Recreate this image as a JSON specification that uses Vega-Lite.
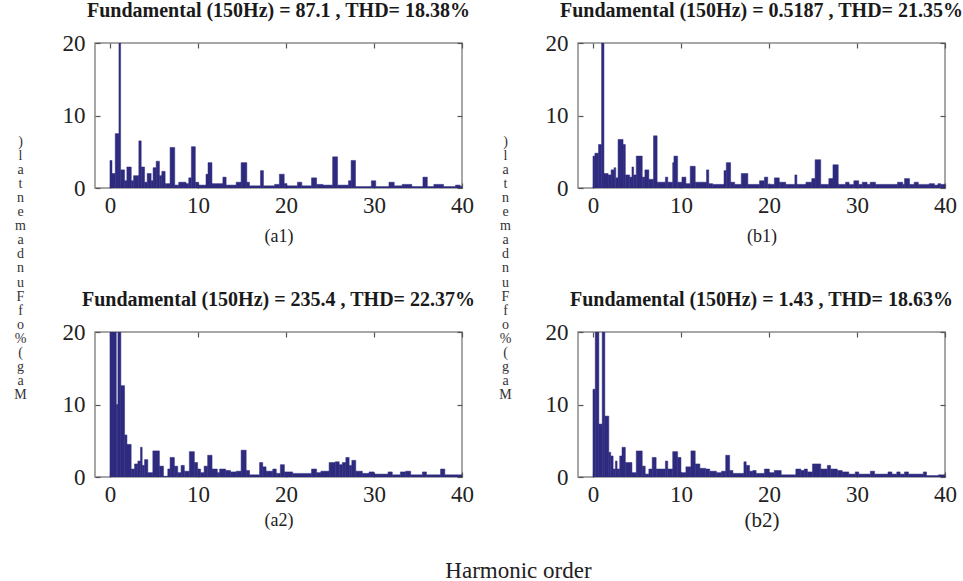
{
  "$schema": "https://vega.github.io/schema/vega-lite/v6.json",
  "background": "white",
  "padding": {"left": 13, "top": 0, "right": 5, "bottom": 5},
  "datasets": {
    "a1": [
      {"x0":0,"x1":0.23,"v":3.8},{"x0":0.23,"x1":0.6,"v":2.0},{"x0":0.6,"x1":1.02,"v":7.5},{"x0":1.02,"x1":1.21,"v":100},
      {"x0":1.21,"x1":1.66,"v":2.5},{"x0":1.66,"x1":1.92,"v":1.0},{"x0":1.92,"x1":2.42,"v":2.9},{"x0":2.42,"x1":2.68,"v":1.0},
      {"x0":2.68,"x1":3.28,"v":1.7},{"x0":3.28,"x1":3.55,"v":6.5},{"x0":3.55,"x1":3.93,"v":2.9},{"x0":3.93,"x1":4.23,"v":0.8},
      {"x0":4.23,"x1":4.68,"v":2.0},{"x0":4.68,"x1":4.9,"v":1.0},{"x0":4.9,"x1":5.25,"v":2.8},{"x0":5.25,"x1":5.62,"v":3.7},
      {"x0":5.62,"x1":5.89,"v":1.7},{"x0":5.89,"x1":6.27,"v":2.3},{"x0":6.27,"x1":6.83,"v":0.6},{"x0":6.83,"x1":7.36,"v":5.6},
      {"x0":7.36,"x1":7.81,"v":0.4},{"x0":7.81,"x1":8.64,"v":0.8},{"x0":8.64,"x1":8.95,"v":0.6},{"x0":8.95,"x1":9.25,"v":1.4},
      {"x0":9.25,"x1":9.7,"v":5.7},{"x0":9.7,"x1":10.08,"v":0.8},{"x0":10.08,"x1":10.91,"v":0.4},{"x0":10.91,"x1":11.14,"v":1.9},
      {"x0":11.14,"x1":11.59,"v":3.5},{"x0":11.59,"x1":12.83,"v":0.6},{"x0":12.83,"x1":13.2,"v":1.5},{"x0":13.2,"x1":14.34,"v":0.4},
      {"x0":14.34,"x1":14.9,"v":0.8},{"x0":14.9,"x1":15.55,"v":3.5},{"x0":15.55,"x1":15.85,"v":0.8},{"x0":15.85,"x1":17.1,"v":0.3},
      {"x0":17.1,"x1":17.44,"v":2.4},{"x0":17.44,"x1":18.7,"v":0.3},{"x0":18.7,"x1":19.25,"v":0.5},{"x0":19.25,"x1":19.8,"v":1.9},
      {"x0":19.8,"x1":20.1,"v":0.6},{"x0":20.1,"x1":21.3,"v":0.3},{"x0":21.3,"x1":21.8,"v":0.8},{"x0":21.8,"x1":22.9,"v":0.3},
      {"x0":22.9,"x1":23.48,"v":1.4},{"x0":23.48,"x1":24.2,"v":0.5},{"x0":24.2,"x1":25.3,"v":0.4},{"x0":25.3,"x1":25.86,"v":4.3},
      {"x0":25.86,"x1":27.1,"v":0.4},{"x0":27.1,"x1":27.4,"v":1.0},{"x0":27.4,"x1":27.9,"v":3.8},{"x0":27.9,"x1":29.7,"v":0.2},
      {"x0":29.7,"x1":30.2,"v":1.0},{"x0":30.2,"x1":31.7,"v":0.2},{"x0":31.7,"x1":32.3,"v":0.8},{"x0":32.3,"x1":33.2,"v":0.3},
      {"x0":33.2,"x1":34.3,"v":0.5},{"x0":34.3,"x1":35.56,"v":0.2},{"x0":35.56,"x1":36.06,"v":1.5},{"x0":36.06,"x1":36.8,"v":0.2},
      {"x0":36.8,"x1":37.9,"v":0.5},{"x0":37.9,"x1":39.26,"v":0.2},{"x0":39.26,"x1":39.8,"v":0.4},{"x0":39.8,"x1":40,"v":0.2}
    ],
    "b1": [
      {"x0":0,"x1":0.22,"v":4.4},{"x0":0.22,"x1":0.63,"v":4.8},{"x0":0.63,"x1":0.98,"v":6.0},{"x0":0.98,"x1":1.25,"v":100},
      {"x0":1.25,"x1":1.72,"v":2.0},{"x0":1.72,"x1":2.06,"v":1.8},{"x0":2.06,"x1":2.4,"v":2.5},{"x0":2.4,"x1":2.59,"v":2.8},
      {"x0":2.59,"x1":2.85,"v":1.4},{"x0":2.85,"x1":3.42,"v":6.7},{"x0":3.42,"x1":3.68,"v":6.0},{"x0":3.68,"x1":4.17,"v":1.8},
      {"x0":4.17,"x1":4.43,"v":1.5},{"x0":4.43,"x1":4.62,"v":2.9},{"x0":4.62,"x1":4.92,"v":1.8},{"x0":4.92,"x1":5.6,"v":4.4},
      {"x0":5.6,"x1":5.9,"v":1.5},{"x0":5.9,"x1":6.35,"v":2.5},{"x0":6.35,"x1":6.88,"v":1.2},{"x0":6.88,"x1":7.29,"v":7.2},
      {"x0":7.29,"x1":8.23,"v":0.8},{"x0":8.23,"x1":8.5,"v":1.5},{"x0":8.5,"x1":9.06,"v":0.8},{"x0":9.06,"x1":9.2,"v":3.5},
      {"x0":9.2,"x1":9.62,"v":4.4},{"x0":9.62,"x1":10.11,"v":0.8},{"x0":10.11,"x1":10.56,"v":1.5},{"x0":10.56,"x1":11.05,"v":0.6},
      {"x0":11.05,"x1":11.62,"v":3.0},{"x0":11.62,"x1":12.9,"v":0.8},{"x0":12.9,"x1":13.16,"v":2.5},{"x0":13.16,"x1":13.6,"v":0.6},
      {"x0":13.6,"x1":14.89,"v":0.5},{"x0":14.89,"x1":15.15,"v":2.4},{"x0":15.15,"x1":15.64,"v":3.5},{"x0":15.64,"x1":16.1,"v":0.8},
      {"x0":16.1,"x1":16.85,"v":0.5},{"x0":16.85,"x1":17.6,"v":2.0},{"x0":17.6,"x1":18.92,"v":0.5},{"x0":18.92,"x1":19.48,"v":1.0},
      {"x0":19.48,"x1":19.86,"v":1.5},{"x0":19.86,"x1":20.61,"v":0.5},{"x0":20.61,"x1":21.17,"v":1.4},{"x0":21.17,"x1":21.9,"v":0.8},
      {"x0":21.9,"x1":22.94,"v":0.5},{"x0":22.94,"x1":23.17,"v":1.8},{"x0":23.17,"x1":24.2,"v":0.5},{"x0":24.2,"x1":24.86,"v":0.8},
      {"x0":24.86,"x1":25.24,"v":1.3},{"x0":25.24,"x1":25.88,"v":3.9},{"x0":25.88,"x1":26.8,"v":0.5},{"x0":26.8,"x1":27.27,"v":1.3},
      {"x0":27.27,"x1":27.87,"v":3.2},{"x0":27.87,"x1":28.7,"v":0.5},{"x0":28.7,"x1":29.1,"v":0.8},{"x0":29.1,"x1":29.64,"v":0.5},
      {"x0":29.64,"x1":30.2,"v":1.0},{"x0":30.2,"x1":30.6,"v":0.5},{"x0":30.6,"x1":31.15,"v":0.8},{"x0":31.15,"x1":31.5,"v":0.5},
      {"x0":31.5,"x1":32.1,"v":0.8},{"x0":32.1,"x1":34.6,"v":0.5},{"x0":34.6,"x1":35.2,"v":0.8},{"x0":35.2,"x1":35.4,"v":0.5},
      {"x0":35.4,"x1":35.97,"v":1.3},{"x0":35.97,"x1":36.5,"v":0.5},{"x0":36.5,"x1":36.97,"v":0.8},{"x0":36.97,"x1":38.2,"v":0.5},
      {"x0":38.2,"x1":38.8,"v":0.6},{"x0":38.8,"x1":39.2,"v":0.4},{"x0":39.2,"x1":39.5,"v":0.6},{"x0":39.5,"x1":40,"v":0.5}
    ],
    "a2": [
      {"x0":0,"x1":0.72,"v":45},{"x0":0.72,"x1":0.9,"v":10.0},{"x0":0.9,"x1":1.24,"v":100},{"x0":1.24,"x1":1.66,"v":12.6},
      {"x0":1.66,"x1":1.93,"v":5.8},{"x0":1.93,"x1":2.41,"v":4.5},{"x0":2.41,"x1":2.79,"v":1.1},{"x0":2.79,"x1":3.17,"v":1.8},
      {"x0":3.17,"x1":3.47,"v":2.2},{"x0":3.47,"x1":3.66,"v":4.1},{"x0":3.66,"x1":3.93,"v":1.6},{"x0":3.93,"x1":4.3,"v":2.4},
      {"x0":4.3,"x1":4.87,"v":0.6},{"x0":4.87,"x1":5.62,"v":3.6},{"x0":5.62,"x1":6.08,"v":1.5},{"x0":6.08,"x1":6.57,"v":0.1},
      {"x0":6.57,"x1":6.83,"v":1.1},{"x0":6.83,"x1":7.32,"v":2.7},{"x0":7.32,"x1":7.7,"v":1.5},{"x0":7.7,"x1":8.08,"v":0.6},
      {"x0":8.08,"x1":8.45,"v":1.6},{"x0":8.45,"x1":9.02,"v":0.8},{"x0":9.02,"x1":9.59,"v":3.5},{"x0":9.59,"x1":9.96,"v":2.0},
      {"x0":9.96,"x1":10.3,"v":1.1},{"x0":10.3,"x1":10.7,"v":0.6},{"x0":10.7,"x1":11.1,"v":1.5},{"x0":11.1,"x1":11.6,"v":3.0},
      {"x0":11.6,"x1":12.2,"v":1.1},{"x0":12.2,"x1":12.46,"v":0.6},{"x0":12.46,"x1":13.14,"v":1.1},{"x0":13.14,"x1":13.7,"v":0.9},
      {"x0":13.7,"x1":14.34,"v":0.7},{"x0":14.34,"x1":14.9,"v":0.8},{"x0":14.9,"x1":15.48,"v":3.7},{"x0":15.48,"x1":15.86,"v":0.9},
      {"x0":15.86,"x1":17.0,"v":0.3},{"x0":17.0,"x1":17.36,"v":2.0},{"x0":17.36,"x1":17.74,"v":1.4},{"x0":17.74,"x1":18.5,"v":0.8},
      {"x0":18.5,"x1":18.9,"v":1.1},{"x0":18.9,"x1":19.36,"v":0.5},{"x0":19.36,"x1":19.82,"v":1.7},{"x0":19.82,"x1":20.76,"v":0.7},
      {"x0":20.76,"x1":22.9,"v":0.5},{"x0":22.9,"x1":23.48,"v":1.1},{"x0":23.48,"x1":23.97,"v":0.6},{"x0":23.97,"x1":24.9,"v":0.8},
      {"x0":24.9,"x1":25.6,"v":2.0},{"x0":25.6,"x1":26.05,"v":2.1},{"x0":26.05,"x1":26.4,"v":1.7},{"x0":26.4,"x1":26.8,"v":2.0},
      {"x0":26.8,"x1":27.18,"v":2.7},{"x0":27.18,"x1":27.48,"v":1.6},{"x0":27.48,"x1":27.93,"v":2.3},{"x0":27.93,"x1":28.68,"v":0.8},
      {"x0":28.68,"x1":29.44,"v":0.5},{"x0":29.44,"x1":30.0,"v":0.7},{"x0":30.0,"x1":31.6,"v":0.4},{"x0":31.6,"x1":32.08,"v":0.7},
      {"x0":32.08,"x1":33.0,"v":0.3},{"x0":33.0,"x1":33.6,"v":0.7},{"x0":33.6,"x1":34.17,"v":0.8},{"x0":34.17,"x1":35.5,"v":0.3},
      {"x0":35.5,"x1":35.96,"v":0.7},{"x0":35.96,"x1":37.56,"v":0.3},{"x0":37.56,"x1":38.05,"v":1.1},{"x0":38.05,"x1":40,"v":0.3}
    ],
    "b2": [
      {"x0":0,"x1":0.26,"v":12.1},{"x0":0.26,"x1":0.67,"v":40},{"x0":0.67,"x1":1.05,"v":7.3},{"x0":1.05,"x1":1.35,"v":100},
      {"x0":1.35,"x1":1.8,"v":8.4},{"x0":1.8,"x1":2.02,"v":3.4},{"x0":2.02,"x1":2.29,"v":2.9},{"x0":2.29,"x1":2.55,"v":1.1},
      {"x0":2.55,"x1":2.74,"v":2.2},{"x0":2.74,"x1":3.04,"v":1.1},{"x0":3.04,"x1":3.3,"v":2.9},{"x0":3.3,"x1":3.68,"v":4.1},
      {"x0":3.68,"x1":4.43,"v":2.0},{"x0":4.43,"x1":4.92,"v":0.6},{"x0":4.92,"x1":5.6,"v":3.6},{"x0":5.6,"x1":5.94,"v":1.5},
      {"x0":5.94,"x1":6.35,"v":0.4},{"x0":6.35,"x1":6.73,"v":1.1},{"x0":6.73,"x1":7.18,"v":2.7},{"x0":7.18,"x1":8.23,"v":1.1},
      {"x0":8.23,"x1":8.5,"v":2.2},{"x0":8.5,"x1":9.06,"v":1.1},{"x0":9.06,"x1":9.62,"v":3.5},{"x0":9.62,"x1":10.0,"v":2.7},
      {"x0":10.0,"x1":10.56,"v":0.6},{"x0":10.56,"x1":11.13,"v":1.4},{"x0":11.13,"x1":11.62,"v":3.6},{"x0":11.62,"x1":12.15,"v":1.8},
      {"x0":12.15,"x1":12.82,"v":1.2},{"x0":12.82,"x1":13.27,"v":1.1},{"x0":13.27,"x1":14.03,"v":0.8},{"x0":14.03,"x1":14.6,"v":0.6},
      {"x0":14.6,"x1":15.08,"v":0.8},{"x0":15.08,"x1":15.53,"v":3.0},{"x0":15.53,"x1":15.9,"v":0.9},{"x0":15.9,"x1":17.15,"v":0.5},
      {"x0":17.15,"x1":17.41,"v":2.1},{"x0":17.41,"x1":17.79,"v":1.6},{"x0":17.79,"x1":18.17,"v":0.8},{"x0":18.17,"x1":18.54,"v":0.9},
      {"x0":18.54,"x1":19.48,"v":0.5},{"x0":19.48,"x1":20.04,"v":1.1},{"x0":20.04,"x1":20.6,"v":0.6},{"x0":20.6,"x1":21.39,"v":0.9},
      {"x0":21.39,"x1":23.05,"v":0.3},{"x0":23.05,"x1":23.62,"v":1.1},{"x0":23.62,"x1":24.0,"v":0.9},{"x0":24.0,"x1":24.37,"v":1.1},
      {"x0":24.37,"x1":24.94,"v":0.7},{"x0":24.94,"x1":25.88,"v":1.8},{"x0":25.88,"x1":26.63,"v":1.1},{"x0":26.63,"x1":27.0,"v":1.6},
      {"x0":27.0,"x1":27.76,"v":1.1},{"x0":27.76,"x1":28.32,"v":0.9},{"x0":28.32,"x1":29.07,"v":0.7},{"x0":29.07,"x1":29.8,"v":0.4},
      {"x0":29.8,"x1":30.2,"v":0.7},{"x0":30.2,"x1":31.52,"v":0.4},{"x0":31.52,"x1":32.0,"v":0.8},{"x0":32.0,"x1":33.52,"v":0.4},
      {"x0":33.52,"x1":33.97,"v":0.7},{"x0":33.97,"x1":34.52,"v":0.4},{"x0":34.52,"x1":34.9,"v":0.7},{"x0":34.9,"x1":35.4,"v":0.4},
      {"x0":35.4,"x1":35.85,"v":0.7},{"x0":35.85,"x1":37.54,"v":0.4},{"x0":37.54,"x1":37.9,"v":0.7},{"x0":37.9,"x1":39.25,"v":0.2},
      {"x0":39.25,"x1":40,"v":0.3}
    ]
  },
  "config": {
    "font": "Liberation Serif",
    "view": {"stroke": "#8a8a8a", "strokeWidth": 1.5},
    "axis": {"domain": false, "grid": false, "tickSize": -5, "tickColor": "#555555", "tickWidth": 1.2,
             "labelFont": "Liberation Serif", "labelFontSize": 23, "labelColor": "#222222", "labelFlush": false,
             "titleFont": "Liberation Serif", "titleFontWeight": "normal", "titleColor": "#222222", "titleFontSize": 18},
    "axisX": {"labelPadding": 11},
    "axisY": {"labelPadding": 15},
    "title": {"font": "Liberation Serif", "fontSize": 20, "fontWeight": "bold", "color": "#1a1a1a", "offset": 11}
  },
  "title": {"text": "Harmonic order", "orient": "bottom", "anchor": "middle", "fontSize": 23, "fontWeight": "normal", "color": "#222222", "offset": 29, "dx": 30},
  "columns": 2,
  "spacing": {"row": 144, "column": 116},
  "bounds": "flush",
  "concat": [
    {
      "data": {"name": "a1"}, "width": 367, "height": 145,
      "title": {"text": "Fundamental (150Hz) = 87.1 , THD= 18.38%"},
      "layer": [
        {"mark": {"type": "bar", "color": "#2e2b7f", "stroke": "#2e2b7f", "strokeWidth": 0.5, "clip": true},
         "encoding": {
           "x": {"field": "x0", "type": "quantitative", "scale": {"domain": [-1.7, 40], "nice": false, "zero": false},
                 "axis": {"orient": "bottom", "values": [0, 10, 20, 30, 40], "title": "(a1)", "titleY": 48, "titleBaseline": "middle"}},
           "x2": {"field": "x1"},
           "y": {"field": "v", "type": "quantitative", "scale": {"domain": [0, 20], "nice": false},
                 "axis": {"orient": "left", "values": [0, 10, 20],
                          "title": [")", "l", "a", "t", "n", "e", "m", "a", "d", "n", "u", "F", "f", "o", "%", "(", "g", "a", "M"],
                          "titleAngle": 0, "titleX": -75, "titleY": 98, "titleFontSize": 14, "titleLineHeight": 14.1,
                          "titleAlign": "center", "titleBaseline": "middle", "titleColor": "#333333"}},
           "y2": {"datum": 0}
         }},
        {"mark": {"type": "point", "opacity": 0, "clip": true},
         "encoding": {
           "x": {"field": "x0", "type": "quantitative", "scale": {"domain": [-1.7, 40], "nice": false, "zero": false},
                 "axis": {"orient": "top", "values": [0, 10, 20, 30, 40], "labels": false, "title": null}},
           "y": {"field": "v", "type": "quantitative", "scale": {"domain": [0, 20], "nice": false},
                 "axis": {"orient": "right", "values": [0, 10, 20], "labels": false, "title": null}}
         }}
      ],
      "resolve": {"axis": {"x": "independent", "y": "independent"}}
    },
    {
      "data": {"name": "b1"}, "width": 367, "height": 145,
      "title": {"text": "Fundamental (150Hz) = 0.5187 , THD= 21.35%"},
      "layer": [
        {"mark": {"type": "bar", "color": "#2e2b7f", "stroke": "#2e2b7f", "strokeWidth": 0.5, "clip": true},
         "encoding": {
           "x": {"field": "x0", "type": "quantitative", "scale": {"domain": [-1.7, 40], "nice": false, "zero": false},
                 "axis": {"orient": "bottom", "values": [0, 10, 20, 30, 40], "title": "(b1)", "titleY": 48, "titleBaseline": "middle"}},
           "x2": {"field": "x1"},
           "y": {"field": "v", "type": "quantitative", "scale": {"domain": [0, 20], "nice": false},
                 "axis": {"orient": "left", "values": [0, 10, 20],
                          "title": [")", "l", "a", "t", "n", "e", "m", "a", "d", "n", "u", "F", "f", "o", "%", "(", "g", "a", "M"],
                          "titleAngle": 0, "titleX": -73, "titleY": 98, "titleFontSize": 14, "titleLineHeight": 14.1,
                          "titleAlign": "center", "titleBaseline": "middle", "titleColor": "#333333"}},
           "y2": {"datum": 0}
         }},
        {"mark": {"type": "point", "opacity": 0, "clip": true},
         "encoding": {
           "x": {"field": "x0", "type": "quantitative", "scale": {"domain": [-1.7, 40], "nice": false, "zero": false},
                 "axis": {"orient": "top", "values": [0, 10, 20, 30, 40], "labels": false, "title": null}},
           "y": {"field": "v", "type": "quantitative", "scale": {"domain": [0, 20], "nice": false},
                 "axis": {"orient": "right", "values": [0, 10, 20], "labels": false, "title": null}}
         }}
      ],
      "resolve": {"axis": {"x": "independent", "y": "independent"}}
    },
    {
      "data": {"name": "a2"}, "width": 367, "height": 145,
      "title": {"text": "Fundamental (150Hz) = 235.4 , THD= 22.37%"},
      "layer": [
        {"mark": {"type": "bar", "color": "#2e2b7f", "stroke": "#2e2b7f", "strokeWidth": 0.5, "clip": true},
         "encoding": {
           "x": {"field": "x0", "type": "quantitative", "scale": {"domain": [-1.7, 40], "nice": false, "zero": false},
                 "axis": {"orient": "bottom", "values": [0, 10, 20, 30, 40], "title": "(a2)", "titleY": 43, "titleBaseline": "middle"}},
           "x2": {"field": "x1"},
           "y": {"field": "v", "type": "quantitative", "scale": {"domain": [0, 20], "nice": false},
                 "axis": {"orient": "left", "values": [0, 10, 20], "title": null}},
           "y2": {"datum": 0}
         }},
        {"mark": {"type": "point", "opacity": 0, "clip": true},
         "encoding": {
           "x": {"field": "x0", "type": "quantitative", "scale": {"domain": [-1.7, 40], "nice": false, "zero": false},
                 "axis": {"orient": "top", "values": [0, 10, 20, 30, 40], "labels": false, "title": null}},
           "y": {"field": "v", "type": "quantitative", "scale": {"domain": [0, 20], "nice": false},
                 "axis": {"orient": "right", "values": [0, 10, 20], "labels": false, "title": null}}
         }}
      ],
      "resolve": {"axis": {"x": "independent", "y": "independent"}}
    },
    {
      "data": {"name": "b2"}, "width": 367, "height": 145,
      "title": {"text": "Fundamental (150Hz) = 1.43 , THD= 18.63%"},
      "layer": [
        {"mark": {"type": "bar", "color": "#2e2b7f", "stroke": "#2e2b7f", "strokeWidth": 0.5, "clip": true},
         "encoding": {
           "x": {"field": "x0", "type": "quantitative", "scale": {"domain": [-1.7, 40], "nice": false, "zero": false},
                 "axis": {"orient": "bottom", "values": [0, 10, 20, 30, 40], "title": "(b2)", "titleY": 43, "titleBaseline": "middle", "titleFontSize": 21}},
           "x2": {"field": "x1"},
           "y": {"field": "v", "type": "quantitative", "scale": {"domain": [0, 20], "nice": false},
                 "axis": {"orient": "left", "values": [0, 10, 20], "title": null}},
           "y2": {"datum": 0}
         }},
        {"mark": {"type": "point", "opacity": 0, "clip": true},
         "encoding": {
           "x": {"field": "x0", "type": "quantitative", "scale": {"domain": [-1.7, 40], "nice": false, "zero": false},
                 "axis": {"orient": "top", "values": [0, 10, 20, 30, 40], "labels": false, "title": null}},
           "y": {"field": "v", "type": "quantitative", "scale": {"domain": [0, 20], "nice": false},
                 "axis": {"orient": "right", "values": [0, 10, 20], "labels": false, "title": null}}
         }}
      ],
      "resolve": {"axis": {"x": "independent", "y": "independent"}}
    }
  ]
}
